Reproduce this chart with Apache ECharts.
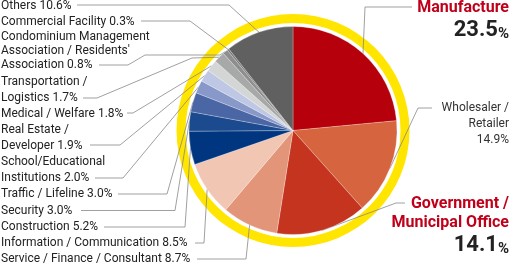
<!DOCTYPE html>
<html><head><meta charset="utf-8">
<script src="https://cdn.jsdelivr.net/npm/echarts@6/dist/echarts.min.js"></script>
<style>html,body{margin:0;padding:0;background:#fff}#c{width:510px;height:265px}</style>
</head><body><div id="c"></div>
<script>
const categories = ['Manufacture', 'Wholesaler /\nRetailer', 'Government /\nMunicipal Office',
  'Service / Finance / Consultant', 'Information / Communication', 'Construction', 'Security',
  'Traffic / Lifeline', 'School/Educational\nInstitutions', 'Real Estate /\nDeveloper',
  'Medical / Welfare', 'Transportation /\nLogistics',
  "Condominium Management\nAssociation / Residents'\nAssociation", 'Commercial Facility', 'Others'];
const values = [23.5, 14.9, 14.1, 8.7, 8.5, 5.2, 3.0, 3.0, 2.0, 1.9, 1.8, 1.7, 0.8, 0.3, 10.6];
const colors = ['#b6000b', '#d5643f', '#c5341f', '#e3957a', '#f1c6b2', '#003580', '#1b4b8e',
  '#4a66a5', '#8798c9', '#bec7e3', '#d4d6d6', '#a7a9a9', '#8e8e8e', '#797979', '#606060'];
const labelKinds = ['major', 'side', 'major', 'left', 'left', 'left', 'left', 'left', 'left',
  'left', 'left', 'left', 'tight', 'left', 'left'];
// label box: [x, top y, align]
const labelBoxes = [[509, -1.2, 'right'], [509, 100, 'right'], [509, 194.5, 'right'],
  [1, 251, 'left'], [1, 235.3, 'left'], [1, 219.3, 'left'], [1, 202.7, 'left'], [1, 186.3, 'left'],
  [1, 154.3, 'left'], [1, 122, 'left'], [1, 106, 'left'], [1, 73.7, 'left'], [1, 30.3, 'left'],
  [1, 13.7, 'left'], [1, -2, 'left']];
// leader line bends from slice edge toward label
const leaderBends = [
  [[365, 7], [412, 7]],
  [[418, 108], [432, 108]],
  [[396, 203], [405, 203]],
  [[246, 259], [197, 259]],
  [[204, 243], [195, 243]],
  [[185, 227], [104, 227]],
  [[175, 210.5], [81, 210.5]],
  [[167, 194], [118, 194]],
  [[123, 178], [95, 178]],
  [[120, 145], [90, 145]],
  [[133, 113], [127, 113]],
  [[192, 58], [97, 98], [83, 98]],
  [[220, 55], [145, 55], [128, 65], [99, 65]],
  [[190, 21], [141, 21]],
  [[229, 5], [77, 5]]
];

const FONT = 'Roboto';
function fmt(p) {
  const i = p.dataIndex, kind = labelKinds[i];
  const name = categories[i], v = values[i].toFixed(1);
  if (kind === 'major') {
    return name.split('\n').map(l => '{n|' + l + '}').join('\n') + '\n{v|' + v + '}{p|%}';
  }
  if (kind === 'side') {
    return name.split('\n').concat([v + '%']).map(l => '{s|' + l + '}').join('\n');
  }
  const tag = kind === 'tight' ? 'c' : 't';
  const lines = (name + ' ' + v + '%').split('\n');
  return lines.map(l => '{' + tag + '|' + l + '}').join('\n');
}

const chart = echarts.init(document.getElementById('c'), null, {renderer: 'canvas'});
chart.setOption({
  animation: false,
  series: [
    {
      type: 'pie', center: [293, 130.5], radius: [107.5, 116.5], silent: true, z: 1,
      data: [{value: 1}], label: {show: false}, labelLine: {show: false},
      itemStyle: {color: '#ffe500'}
    },
    {
      type: 'pie', center: [293, 130.5], radius: 104, startAngle: 90, clockwise: true,
      avoidLabelOverlap: false, z: 2,
      data: values.map((v, i) => ({value: v, name: categories[i], itemStyle: {color: colors[i]}})),
      itemStyle: {borderColor: 'rgba(255,255,255,0.5)', borderWidth: 0.5},
      label: {
        show: true, position: 'outer', formatter: fmt, fontFamily: FONT,
        rich: {
          n: {fontFamily: FONT, fontSize: 16, fontWeight: 'bold', color: '#c0001a', lineHeight: 19},
          v: {fontFamily: FONT, fontSize: 22, fontWeight: 'bold', color: '#222', lineHeight: 24, verticalAlign: 'bottom'},
          p: {fontFamily: FONT, fontSize: 15, fontWeight: 'bold', color: '#222', lineHeight: 24, verticalAlign: 'bottom'},
          s: {fontFamily: FONT, fontSize: 12, color: '#333', lineHeight: 16},
          t: {fontFamily: FONT, fontSize: 12, color: '#222', lineHeight: 16},
          c: {fontFamily: FONT, fontSize: 12, color: '#222', lineHeight: 14}
        }
      },
      labelLine: {show: true, length: 5, length2: 5, lineStyle: {color: '#888', width: 0.8}},
      labelLayout: function (params) {
        const i = params.dataIndex;
        const b = labelBoxes[i];
        const pts = params.labelLinePoints;
        const p0 = pts && pts.length ? pts[0] : leaderBends[i][0];
        return {
          x: b[0], y: b[1], align: b[2], verticalAlign: 'top',
          labelLinePoints: [p0].concat(leaderBends[i])
        };
      }
    }
  ]
});
</script>
</body></html>
